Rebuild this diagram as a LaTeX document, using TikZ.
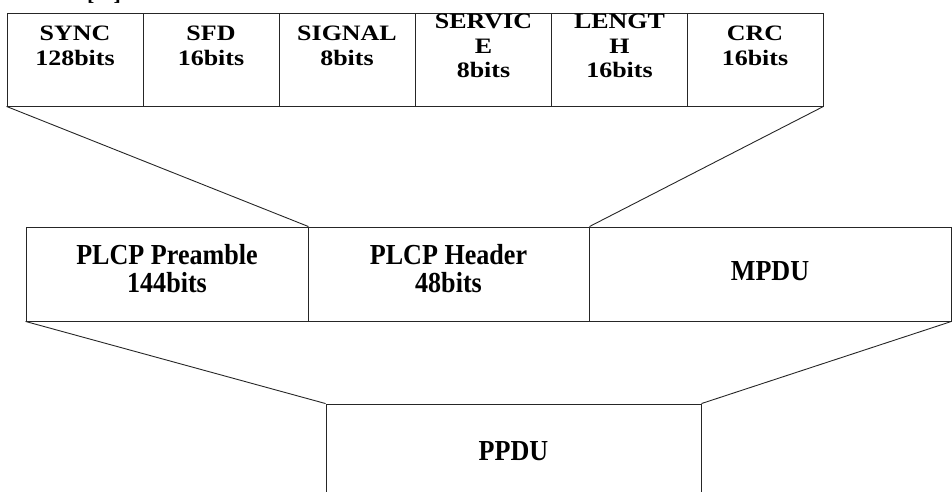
\documentclass[tikz,border=0pt]{standalone}
\usepackage{graphicx}
\usepackage{fontspec}
\setmainfont{Liberation Serif}
\newcommand\tw[1]{\scalebox{1.18}[1]{#1}}
\newcommand\mw[1]{\scalebox{0.9}[1]{#1}}
\begin{document}
\begin{tikzpicture}[x=1pt,y=-1pt,
  frame/.style={draw=black!85, line width=0.9pt},
  cell/.style={frame, rectangle, inner sep=0pt, minimum height=93pt, minimum width=136pt},
  mcell/.style={frame, rectangle, inner sep=0pt, minimum height=94pt},
  lbl/.style={align=center, inner sep=0pt, font=\fontsize{22}{24.5}\selectfont\bfseries},
  mlbl/.style={align=center, inner sep=0pt, font=\fontsize{29}{28}\selectfont\bfseries},
  link/.style={draw=black!85, line width=0.9pt}]
\useasboundingbox (0,0) rectangle (952,492);
% cut-off caption fragment
\node[anchor=base west, inner sep=0pt, font=\fontsize{22}{24}\selectfont\bfseries] (cap) at (87,0.5) {[\hspace{19pt}]};
% top row
\node[cell] (sync) at (75,59.5) {};
\node[cell] (sfd) at (211,59.5) {};
\node[cell] (signal) at (347,59.5) {};
\node[cell] (service) at (483.5,59.5) {};
\node[cell] (length) at (619.5,59.5) {};
\node[cell] (crc) at (755,59.5) {};
\node[lbl] (tsync) at (75,46) {\tw{SYNC}\\\tw{128bits}};
\node[lbl] (tsfd) at (211,46) {\tw{SFD}\\\tw{16bits}};
\node[lbl] (tsignal) at (347,46) {\tw{SIGNAL}\\\tw{8bits}};
\node[lbl] (tservice) at (483.5,46) {\tw{SERVIC}\\\tw{E}\\\tw{8bits}};
\node[lbl] (tlength) at (619.5,46) {\tw{LENGT}\\\tw{H}\\\tw{16bits}};
\node[lbl] (tcrc) at (755,46) {\tw{CRC}\\\tw{16bits}};
% middle row
\node[mcell, minimum width=282pt] (pre) at (167,274) {};
\node[mcell, minimum width=281pt] (hdr) at (448.5,274) {};
\node[mcell, minimum width=362pt] (mpdu) at (770,274) {};
\node[mlbl] (tpre) at (167,269) {\mw{PLCP Preamble}\\\mw{144bits}};
\node[mlbl] (thdr) at (448.5,269) {\mw{PLCP Header}\\\mw{48bits}};
\node[mlbl] (tmpdu) at (770,271) {\mw{MPDU}};
% bottom
\node[frame, rectangle, inner sep=0pt, minimum width=375pt, minimum height=120pt] (ppdu) at (513.5,464) {};
\node[mlbl] (tppdu) at (513.5,451) {\mw{PPDU}};
% connectors
\draw[link] (sync.south west) -- (pre.north east);
\draw[link] (crc.south east) -- (hdr.north east);
\draw[link] (pre.south west) -- (ppdu.north west);
\draw[link] (mpdu.south east) -- (ppdu.north east);
\end{tikzpicture}
\end{document}
